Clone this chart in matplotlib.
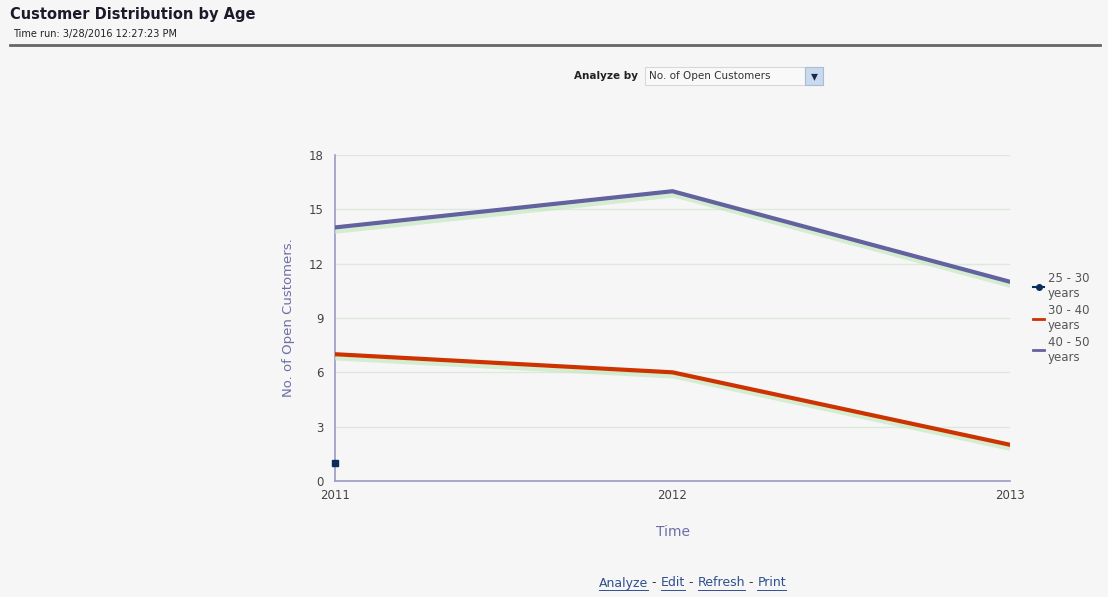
import matplotlib
matplotlib.use("Agg")
import matplotlib.pyplot as plt
import matplotlib.patheffects as pe
from matplotlib.patches import Rectangle
from matplotlib.lines import Line2D

# series values per year
years = [2011, 2012, 2013]
age_25_30 = [1]            # only one value, 2011
age_30_40 = [7, 6, 2]
age_40_50 = [14, 16, 11]
series_names = ["25 - 30\nyears", "30 - 40\nyears", "40 - 50\nyears"]
y_ticks = [0, 3, 6, 9, 12, 15, 18]

bg = "#f6f6f6"
purple = "#62629e"
red = "#cc3300"
navy = "#0b2d5e"
axis_col = "#9a9ac8"
label_col = "#6e6ea6"
W, H = 1108, 597

fig = plt.figure(figsize=(11.08, 5.97), dpi=100)
fig.patch.set_facecolor(bg)

# header
fig.text(10/W, 1 - 15/H, "Customer Distribution by Age", fontsize=10.5,
         fontweight="bold", color="#1a1a2a", va="center")
fig.text(13/W, 1 - 34/H, "Time run: 3/28/2016 12:27:23 PM", fontsize=7,
         color="#222222", va="center")
fig.add_artist(Line2D([10/W, 1100/W], [1 - 45/H, 1 - 45/H],
                      color="#666666", lw=2))

# analyze by selector
fig.text(638/W, 1 - 76/H, "Analyze by", fontsize=7.5, fontweight="bold",
         color="#222222", ha="right", va="center")
fig.add_artist(Rectangle((645/W, 1 - 85/H), 160/W, 18/H,
                         facecolor="#f9f9f9", edgecolor="#d8d8d8", lw=0.8))
fig.text(649/W, 1 - 76/H, "No. of Open Customers", fontsize=7.5,
         color="#333333", va="center")
fig.add_artist(Rectangle((805/W, 1 - 85/H), 18/W, 18/H,
                         facecolor="#c9d9ee", edgecolor="#a8bcd8", lw=0.8))
fig.text(814/W, 1 - 76/H, "\u25BE", fontsize=10, color="#1a2a4a",
         ha="center", va="center")

ax = fig.add_axes([335/W, 1 - 481/H, 675/W, 326/H])
ax.set_facecolor(bg)

shadow = [pe.SimpleLineShadow(offset=(1, -3), shadow_color="#c6e8c0", alpha=0.7),
          pe.Normal()]
ax.plot(years, age_40_50, color=purple, lw=3, solid_joinstyle="miter",
        path_effects=shadow, zorder=3)
ax.plot(years, age_30_40, color=red, lw=3, solid_joinstyle="miter",
        path_effects=shadow, zorder=3)
ax.plot(years[:1], age_25_30, marker="s", color=navy, ms=5, ls="none",
        zorder=4, clip_on=False)

ax.set_xlim(2011, 2013)
ax.set_ylim(0, 18)
ax.set_yticks(y_ticks)
ax.set_xticks(years)
ax.set_xticklabels([str(y) for y in years])
ax.grid(axis="y", color="#dfe8dc", lw=1)
ax.set_axisbelow(True)
for s in ["top", "right"]:
    ax.spines[s].set_visible(False)
for s in ["left", "bottom"]:
    ax.spines[s].set_color(axis_col)
    ax.spines[s].set_linewidth(1.2)
ax.tick_params(length=0, labelsize=8.5, colors="#444444", pad=8)
ax.tick_params(axis="x", pad=6)
ax.set_ylabel("No. of Open Customers.", fontsize=9.5, color=label_col, labelpad=10)
ax.set_xlabel("Time", fontsize=10, color=label_col, labelpad=16)

# legend
handles = [
    Line2D([], [], color=navy, marker="o", ms=4, lw=1.5),
    Line2D([], [], color=red, lw=2),
    Line2D([], [], color=purple, lw=2),
]
leg = fig.legend(handles, series_names, loc="center left",
                 bbox_to_anchor=(1022/W, 1 - 318/H), frameon=False,
                 fontsize=8.5, handlelength=1.0, handletextpad=0.3,
                 labelspacing=0.3, labelcolor="#555555")
for t in leg.get_texts():
    t.set_linespacing(1.2)

# footer links, each underlined to its own width
links = ["Analyze", "Edit", "Refresh", "Print"]
renderer = fig.canvas.get_renderer()
x = 599
for i, name in enumerate(links):
    if i > 0:
        d = fig.text(x/W, 1 - 583/H, " - ", fontsize=9, color="#333333",
                     va="center")
        x += d.get_window_extent(renderer).width
    t = fig.text(x/W, 1 - 583/H, name, fontsize=9, color="#2f4f8f",
                 va="center")
    w = t.get_window_extent(renderer).width
    fig.add_artist(Line2D([x/W, (x + w)/W], [1 - 590/H, 1 - 590/H],
                          color="#2f4f8f", lw=0.7))
    x += w

fig.savefig("out.png", dpi=100, facecolor=bg)
